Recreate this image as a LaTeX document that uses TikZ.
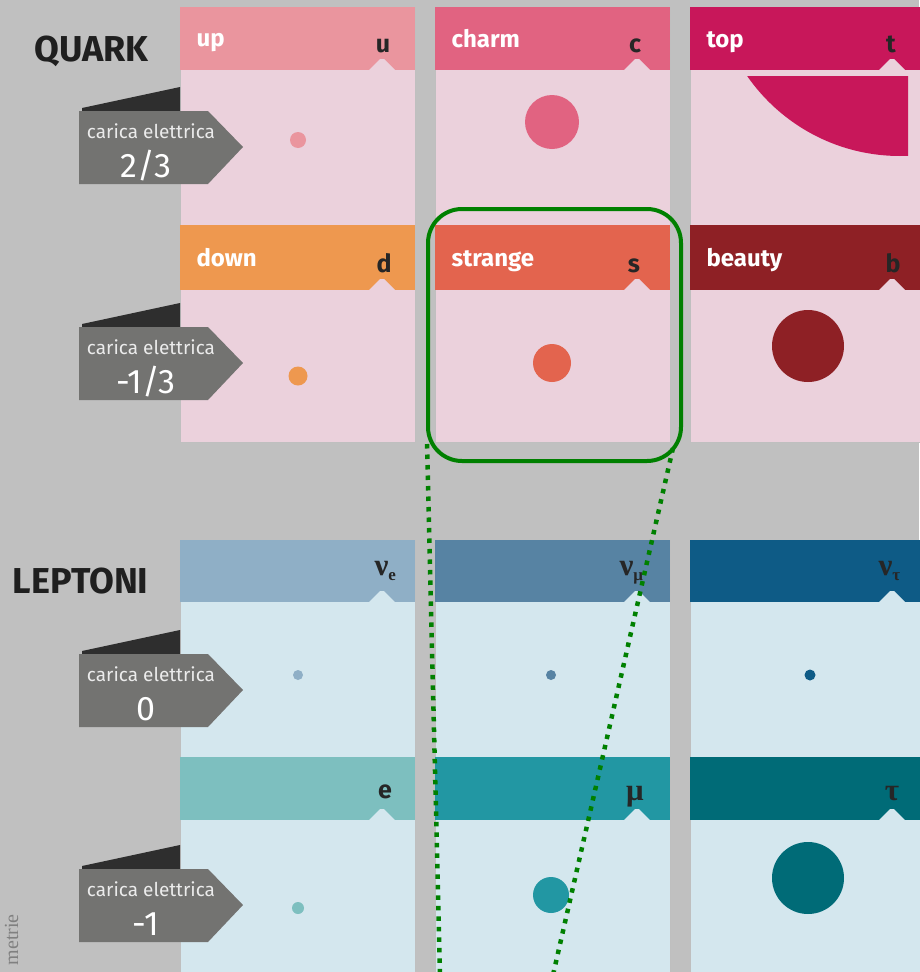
\documentclass[tikz,border=0pt]{standalone}
\usepackage{fontspec}
\setmainfont{Fira Sans}
\newfontfamily\grkfont{Liberation Serif}
\definecolor{sfondo}{HTML}{C0C0C0}
\definecolor{rosa}{HTML}{EBD1DC}
\definecolor{azzurro}{HTML}{D4E7EE}
\definecolor{upc}{HTML}{EA959E}
\definecolor{charmc}{HTML}{E16381}
\definecolor{topc}{HTML}{C8175A}
\definecolor{downc}{HTML}{EE984F}
\definecolor{strangec}{HTML}{E3644E}
\definecolor{beautyc}{HTML}{8E2025}
\definecolor{nuec}{HTML}{8FAFC6}
\definecolor{numuc}{HTML}{5783A3}
\definecolor{nutauc}{HTML}{0E5B86}
\definecolor{ec}{HTML}{7DBFBF}
\definecolor{muc}{HTML}{2297A3}
\definecolor{tauc}{HTML}{006B77}
\definecolor{tagc}{HTML}{737371}
\definecolor{piegac}{HTML}{2E2E2E}
\definecolor{verde}{HTML}{008000}
\usetikzlibrary{positioning}
\tikzset{
  cella/.style={draw=black!25, line width=.6pt},
  nome/.style={anchor=base west, text=white, font=\bfseries\fontsize{24}{24}\selectfont},
  simbolo/.style={anchor=base, text=black!85, font=\bfseries\fontsize{25}{25}\selectfont},
  grk/.style={anchor=base west, text=black!85, font=\grkfont\bfseries\fontsize{31}{31}\selectfont},
  carica/.style={anchor=base, text=white!92!black, font=\fontsize{19}{19}\selectfont},
  valore/.style={anchor=base, text=white, font=\fontsize{34}{34}\selectfont},
  titolo/.style={anchor=base east, text=black!88, font=\bfseries\fontsize{36}{36}\selectfont},
  zoomline/.style={verde, line width=4.5pt, dash pattern=on 4.5pt off 6pt},
}
% little triangle under each header
\newcommand{\tacca}[3]{\fill[#3] (#1-14,#2+1) -- (#1-2,#2-11) -- (#1+2,#2-11) -- (#1+14,#2+1) -- cycle;}
\newcommand{\pedice}[1]{\raisebox{-5pt}{\fontsize{17}{17}\selectfont #1}}

\begin{document}
\begin{tikzpicture}[x=1pt, y=-1pt]
\useasboundingbox (0,0) rectangle (919,972);
\fill[sfondo] (0,0) rectangle (919,972);

% cells
\foreach \x/\ca/\cb/\cc/\cd in {180/upc/downc/nuec/ec, 435/charmc/strangec/numuc/muc, 690/topc/beautyc/nutauc/tauc}{
  \filldraw[cella, fill=rosa] (\x,7) rectangle ++(235,435);
  \fill[\ca] (\x,7) rectangle ++(235,63);
  \fill[\cb] (\x,225) rectangle ++(235,65);
  \tacca{\x+202}{70}{rosa}
  \tacca{\x+202}{290}{rosa}
  \filldraw[cella, fill=azzurro] (\x,540) rectangle ++(235,470);
  \fill[\cc] (\x,540) rectangle ++(235,62);
  \fill[\cd] (\x,757) rectangle ++(235,63);
  \tacca{\x+202}{602}{azzurro}
  \tacca{\x+202}{820}{azzurro}
}

\node[titolo] (quark) at (152,61) {QUARK};
\node[titolo] (leptoni) at (152,593) {LEPTONI};

\node[nome] (up) at (193,46) {up};
\node[nome] (charm) at (448,47) {charm};
\node[nome] (top) at (703,47) {top};
\node[nome] (down) at (193,266) {down};
\node[nome] (strange) at (448,266) {strange};
\node[nome] (beauty) at (703,266) {beauty};

\node[simbolo] (u) at (383,52) {u};
\node[simbolo] (c) at (635,52) {c};
\node[simbolo] (t) at (891,52) {t};
\node[simbolo] (d) at (384,272) {d};
\node[simbolo] (s) at (634,272) {s};
\node[simbolo] (b) at (893,272) {b};

\node[grk] (nue) at (371,575) {ν\pedice{e}};
\node[grk] (numu) at (616,575) {ν\pedice{μ}};
\node[grk] (nutau) at (875,575) {ν\pedice{τ}};
\node[simbolo] (e) at (385,798) {e};
\node[grk, anchor=base] (mu) at (635,800) {μ};
\node[grk, anchor=base] (tau) at (892,800) {τ};

% masses
\fill[upc] (298,140) circle (8);
\fill[charmc] (552,122) circle (27);
\begin{scope}
\clip (740,76) rectangle (908,160);
\fill[topc] (900,-30) circle (186);
\end{scope}
\fill[downc] (298,376) circle (9.5);
\fill[strangec] (552,363) circle (19);
\fill[beautyc] (808,346) circle (36);
\fill[nuec] (298,675) circle (5);
\fill[numuc] (551,675) circle (5);
\fill[nutauc] (810,675) circle (5.5);
\fill[ec] (298,908) circle (6);
\fill[muc] (551,895) circle (18);
\fill[tauc] (808,878) circle (36);

% charge tags
\foreach \n/\y/\v in {a/111/{2/3}, b/327/{-1/3}, c/654/0, d/869/-1}{
  \fill[piegac] (82,\y) -- (82,\y-3) -- (180,\y-24) -- (180,\y) -- cycle;
  \fill[tagc] (79,\y) -- (208,\y) -- (243,\y+36) -- (208,\y+73) -- (79,\y+73) -- cycle;
  \node[carica] (car\n) at (151,\y+27) {carica elettrica};
  \node[valore] (val\n) at (146,\y+66) {\v};
}

\node[rotate=90, anchor=base east, inner sep=0pt, text=black!50, font=\grkfont\fontsize{20}{20}\selectfont] (nota) at (18,914) {metrie};

% zoom on strange
\node[draw=verde, line width=4pt, rounded corners=34pt, minimum width=253pt, minimum height=252pt] (zoombox) at (554.5,335) {};
\coordinate (zl) at (440,975);
\coordinate (zr) at (553,975);
\draw[zoomline] ([xshift=1pt, yshift=19pt]zoombox.south west) -- (zl);
\draw[zoomline] ([xshift=-10pt, yshift=15pt]zoombox.south east) -- (zr);
\end{tikzpicture}
\end{document}
